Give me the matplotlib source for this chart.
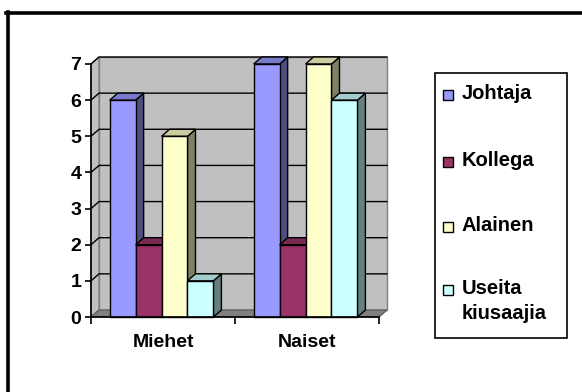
import matplotlib.pyplot as plt
from matplotlib.patches import Polygon, Rectangle
from matplotlib.lines import Line2D
import numpy as np

categories = ["Miehet", "Naiset"]
series_names = ["Johtaja", "Kollega", "Alainen", "Useita\nkiusaajia"]
johtaja = [6, 7]
kollega = [2, 2]
alainen = [5, 7]
useita = [1, 6]
y_ticks = [0, 1, 2, 3, 4, 5, 6, 7]

front_colors = ["#9999FF", "#993366", "#FFFFCC", "#CCFFFF"]

W, H = 582, 392
plt.rcParams["font.family"] = ["Liberation Sans", "DejaVu Sans"]
plt.rcParams["font.weight"] = "bold"


def px(x, y):
    # pixel (from top-left) -> figure fraction
    return x / W, 1 - y / H


def shade(c, f):
    r, g, b = [int(c[i:i + 2], 16) / 255 for i in (1, 3, 5)]
    return (r * f, g * f, b * f)


fig = plt.figure(figsize=(W / 100, H / 100), dpi=100)

# plot area: x 0..2 -> px 91..379, y 0..7 -> px 317..64
ax = fig.add_axes([91 / W, (H - 317) / H, 288 / W, 253 / H])
ax.set_xlim(0, 2)
ax.set_ylim(0, 7)
ax.patch.set_visible(False)
ymax = y_ticks[-1]

# depth offset in data units
DX = 8 / 144
DY = 7 / (253 / 7)

wall_edge = "#808080"
# back wall
ax.add_patch(Rectangle((DX, DY), 2, ymax, facecolor="#C0C0C0",
                       edgecolor=wall_edge, lw=1, zorder=0, clip_on=False))
# left wall
ax.add_patch(Polygon([(0, 0), (DX, DY), (DX, ymax + DY), (0, ymax)],
                     facecolor="#C0C0C0", edgecolor=wall_edge, lw=1,
                     zorder=0, clip_on=False))
# floor
ax.add_patch(Polygon([(0, 0), (2, 0), (2 + DX, DY), (DX, DY)],
                     facecolor="#808080", edgecolor="#606060", lw=1,
                     zorder=0.5, clip_on=False))
# gridlines
for t in y_ticks[1:]:
    ax.plot([0, DX, 2 + DX], [t, t + DY, t + DY], color="black", lw=1,
            zorder=0.8, clip_on=False)

# 3D bars
values = [johtaja, kollega, alainen, useita]
bw = 0.18
start = 0.13
z = 2
for ci in range(len(categories)):
    for si, vals in enumerate(values):
        x0 = ci + start + si * bw
        x1 = x0 + bw
        v = vals[ci]
        c = front_colors[si]
        kw = dict(edgecolor="black", lw=1, clip_on=False, joinstyle="miter")
        ax.add_patch(Polygon([(x1, 0), (x1 + DX, DY), (x1 + DX, v + DY), (x1, v)],
                             facecolor=shade(c, 0.5), zorder=z, **kw))
        ax.add_patch(Polygon([(x0, v), (x1, v), (x1 + DX, v + DY), (x0 + DX, v + DY)],
                             facecolor=shade(c, 0.8), zorder=z, **kw))
        ax.add_patch(Rectangle((x0, 0), bw, v, facecolor=c, zorder=z + 0.1, **kw))
        z += 1

# axes
for s in ["top", "right"]:
    ax.spines[s].set_visible(False)
ax.spines["left"].set_color("black")
ax.spines["bottom"].set_color("black")
ax.spines["left"].set_linewidth(1.2)
ax.spines["bottom"].set_linewidth(1.2)
ax.spines["left"].set_zorder(50)
ax.spines["bottom"].set_zorder(50)

ax.set_yticks(y_ticks)
ax.set_yticklabels([str(t) for t in y_ticks], fontsize=14, fontweight="bold")
ax.tick_params(axis="y", length=4, width=1.2, pad=3)

ax.set_xticks([0, 1, 2])
ax.set_xticklabels([])
ax.tick_params(axis="x", which="major", length=5, width=1.2)
ax.set_xticks([0.5, 1.5], minor=True)
ax.set_xticklabels(categories, minor=True, fontsize=14, fontweight="bold")
ax.tick_params(axis="x", which="minor", length=0, pad=12)

# legend
lx0, ly0, lx1, ly1 = 435, 73, 567, 338
fig.add_artist(Rectangle(px(lx0, ly1), (lx1 - lx0) / W, (ly1 - ly0) / H,
                         transform=fig.transFigure, facecolor="white",
                         edgecolor="black", lw=1.2))
entry_y = [95, 162, 227, 290]
for name, c, ey in zip(series_names, front_colors, entry_y):
    fig.add_artist(Rectangle(px(443, ey + 5), 10 / W, 10 / H,
                             transform=fig.transFigure, facecolor=c,
                             edgecolor="black", lw=1))
    fig.text(*px(462, ey - 11), name, fontsize=14.5, fontweight="bold",
             ha="left", va="top", linespacing=1.4)

# outer frame (top and left edges visible)
fig.add_artist(Line2D([6 / W, 1], [1 - 13 / H, 1 - 13 / H],
                      transform=fig.transFigure, color="black", lw=2.6))
fig.add_artist(Line2D([7.5 / W, 7.5 / W], [0, 1 - 11.5 / H],
                      transform=fig.transFigure, color="black", lw=2.6))

fig.savefig("out.png", dpi=100)
